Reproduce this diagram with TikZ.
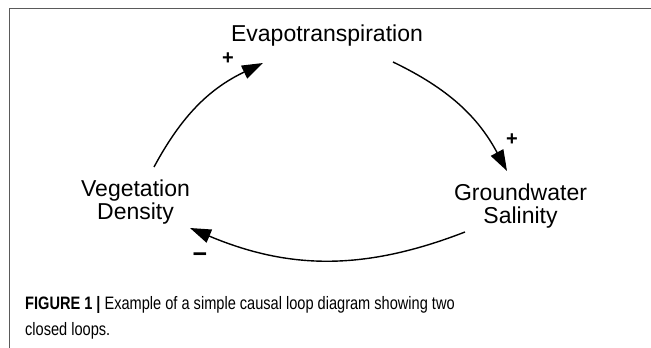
\documentclass[tikz,border=0pt]{standalone}
\usepackage{fontspec}
\setmainfont{Liberation Sans}
\newfontfamily\capfont[FakeStretch=0.81]{Liberation Sans}
\usetikzlibrary{arrows.meta,calc}
\definecolor{framegray}{RGB}{90,90,90}
\begin{document}
\begin{tikzpicture}[x=1pt,y=1pt,
  lbl/.style={font=\fontsize{23}{23}\selectfont, inner sep=0pt, align=center, text=black},
  sgn/.style={font=\fontsize{20}{20}\selectfont\bfseries, inner sep=0pt, text=black},
  link/.style={line width=1.4pt, draw=black, -{Triangle[length=21pt,width=14pt]}},
  framestyle/.style={line width=1.6pt, draw=framegray}]
\useasboundingbox (0,0) rectangle (651,348);
\fill[white] (0,0) rectangle (651,348);
\draw[framestyle] (9.5,0) -- (9.5,339.5) -- (651,339.5);

\node[lbl, anchor=base] (evap) at (327,306) {Evapotranspiration};
\node[lbl] (veg) at (135.5,146) {Vegetation\\Density};
\node[lbl] (gw) at (520.5,141.5) {Groundwater\\Salinity};

\draw[link] ($(veg.center)+(18.5,35)$) to[bend left=18] ($(evap.base)+(-64,-21)$);
\draw[link] ($(evap.base)+(66,-20)$) to[bend left=18] ($(gw.center)+(-13.5,35.5)$);
\draw[link] ($(gw.center)+(-55.5,-25.5)$) to[bend left=22] ($(veg.center)+(54.5,-26)$);

\node[sgn] (p1) at (228,289) {+};
\node[sgn] (p2) at (512,208) {+};
\node[sgn, font=\fontsize{25}{25}\selectfont\bfseries] (m1) at (200,90) {−};

\node[font=\capfont\fontsize{18}{26}\selectfont, anchor=base west, align=left, inner sep=0pt, text=black] (cap) at (25,12)
  {\textbf{FIGURE 1 |} Example of a simple causal loop diagram showing two\\closed loops.};
\end{tikzpicture}
\end{document}
